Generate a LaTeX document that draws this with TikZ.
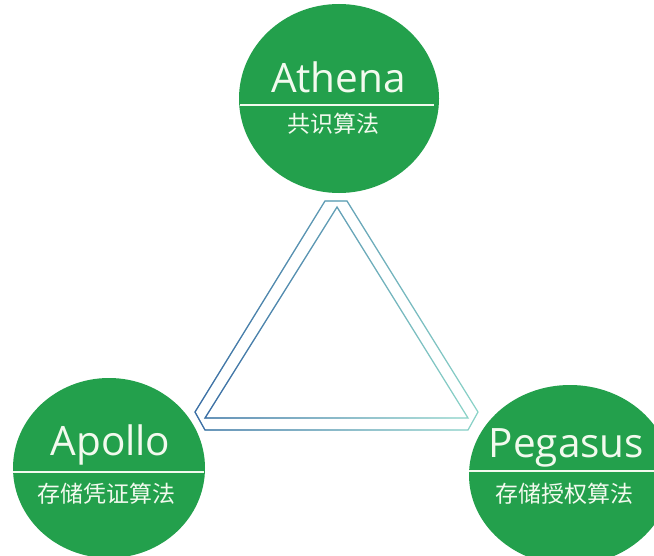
\documentclass[tikz,border=0pt]{standalone}
\usepackage{fontspec}
\setmainfont{Open Sans}
\newfontfamily\cjk{Noto Sans CJK SC}
\usetikzlibrary{shapes.geometric,fadings}
\definecolor{disc}{HTML}{23A04C}
\definecolor{txt}{HTML}{F2FAEE}
\definecolor{triblue}{HTML}{3D68A6}
\definecolor{triteal}{HTML}{8AD4C8}
\tikzset{
  disc/.style={ellipse, fill=disc, draw=none, inner sep=0pt},
  latin/.style={text=txt, inner sep=0pt, anchor=base, font=\fontsize{40.5bp}{40.5bp}\selectfont},
  cjktext/.style={text=txt, inner sep=0pt, anchor=base, font=\cjk\fontsize{23bp}{23bp}\selectfont},
  divider/.style={draw=txt, line width=1.5bp},
  tri/.style={line width=1.2bp, line join=miter}
}
\begin{document}
\begin{tikzpicture}[x=1bp, y=-1bp]
\useasboundingbox (0,0) rectangle (654,556);
\clip (0,0) rectangle (654,556);
\fill[white] (0,0) rectangle (654,556);

% discs
\node[disc, minimum width=200bp, minimum height=189bp] (athena) at (339,98.5) {};
\node[disc, minimum width=192bp, minimum height=180bp] (apollo) at (109,468) {};
\node[disc, minimum width=202bp, minimum height=180bp] (pegasus) at (570,475) {};

% dividers
\coordinate (athL) at (240,105); \coordinate (athR) at (434,105);
\coordinate (apoL) at (13,472);  \coordinate (apoR) at (204,472);
\coordinate (pegL) at (469,471); \coordinate (pegR) at (654,471);
\draw[divider] (athL) -- (athR);
\draw[divider] (apoL) -- (apoR);
\draw[divider] (pegL) -- (pegR);

% texts
\node[latin] (athenaT) at (338.5,93) {Athena};
\node[cjktext] (athenaC) at (333.5,133) {共识算法};
\node[latin] (apolloT) at (110.5,455) {Apollo};
\node[cjktext] (apolloC) at (106.5,502) {存储凭证算法};
\node[latin] (pegasusT) at (566.5,457) {Pegasus};
\node[cjktext] (pegasusC) at (564,502) {存储授权算法};

% triangle frame
\coordinate (o1) at (325,201);
\coordinate (o2) at (347,201);
\coordinate (o3) at (478,412);
\coordinate (o4) at (468,430);
\coordinate (o5) at (205,430);
\coordinate (o6) at (195,412);
\coordinate (i1) at (337,207);
\coordinate (i2) at (468,418);
\coordinate (i3) at (205,418);
\draw[tri, triteal] (o1) -- (o2) -- (o3) -- (o4) -- (o5) -- (o6) -- cycle;
\draw[tri, triteal] (i1) -- (i2) -- (i3) -- cycle;
\draw[tri, triblue, path fading=east] (o1) -- (o2) -- (o3) -- (o4) -- (o5) -- (o6) -- cycle;
\draw[tri, triblue, path fading=east] (i1) -- (i2) -- (i3) -- cycle;
\end{tikzpicture}
\end{document}
